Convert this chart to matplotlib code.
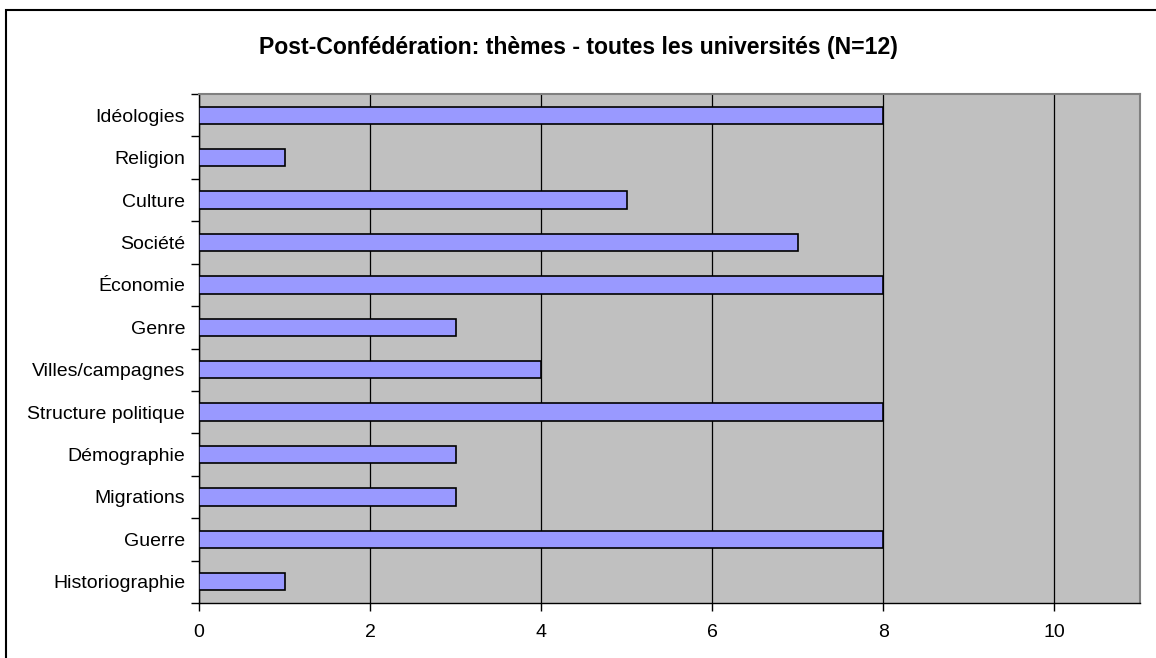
import matplotlib.pyplot as plt
from matplotlib.patches import Rectangle

# themes, listed from bottom to top of the chart
themes = ['Historiographie', 'Guerre', 'Migrations', 'Démographie', 'Structure politique',
          'Villes/campagnes', 'Genre', 'Économie', 'Société', 'Culture', 'Religion', 'Idéologies']
counts = [1, 8, 3, 3, 8, 4, 3, 8, 7, 5, 1, 8]
xticks = [0, 2, 4, 6, 8, 10]

plt.rcParams['font.family'] = ['Liberation Sans', 'DejaVu Sans']

fig = plt.figure(figsize=(11.56, 6.58), dpi=100)
ax = fig.add_axes([199/1156, 1 - 603/658, (1140-199)/1156, (603-94)/658])

ax.set_facecolor('#C0C0C0')
ax.barh(range(len(themes)), counts, height=0.41, color='#9999FF', edgecolor='black', linewidth=1.2, zorder=3)

ax.set_xlim(0, 11)
ax.set_ylim(-0.5, len(themes) - 0.5)
ax.set_xticks(xticks)
ax.set_xticklabels([str(t) for t in xticks], fontsize=14)
ax.xaxis.grid(True, color='black', linewidth=0.9, zorder=1)
ax.set_axisbelow(True)

# category labels in the middle, tick marks on the boundaries
ax.set_yticks(range(len(themes)))
ax.set_yticklabels(themes, fontsize=14)
ax.tick_params(axis='y', which='major', length=0, pad=10)
ax.set_yticks([i - 0.5 for i in range(len(themes) + 1)], minor=True)
ax.tick_params(axis='y', which='minor', length=6, width=1, direction='out')
ax.tick_params(axis='x', length=6, width=1, direction='out', pad=9)

for side in ['top', 'right']:
    ax.spines[side].set_color('#808080')
    ax.spines[side].set_linewidth(1.5)
for side in ['left', 'bottom']:
    ax.spines[side].set_color('black')
    ax.spines[side].set_linewidth(1)

fig.text(578/1156, 1 - 54/658, 'Post-Confédération: thèmes - toutes les universités (N=12)',
         ha='center', va='baseline', fontsize=16.6, fontweight='bold')

# chart border
fig.patches.append(Rectangle((6/1156, -0.1), 1.2, 1 - 10/658 + 0.1, transform=fig.transFigure,
                             fill=False, edgecolor='black', linewidth=1.5))

fig.savefig('out.png', dpi=100)
